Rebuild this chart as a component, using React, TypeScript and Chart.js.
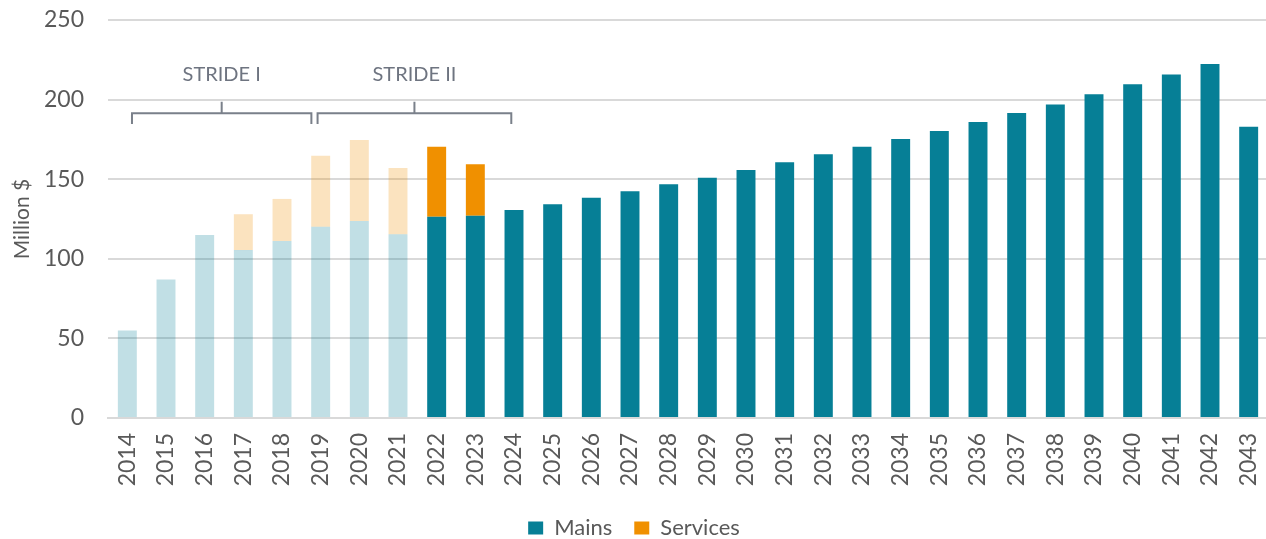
import React, { useEffect, useRef } from "react";
import { Chart, registerables } from "chart.js";

Chart.register(...registerables);

const years = [
  "2014", "2015", "2016", "2017", "2018", "2019", "2020", "2021", "2022", "2023",
  "2024", "2025", "2026", "2027", "2028", "2029", "2030", "2031", "2032", "2033",
  "2034", "2035", "2036", "2037", "2038", "2039", "2040", "2041", "2042", "2043",
];

const mains = [
  55, 87, 115, 105.5, 111.2, 120.2, 123.7, 115.4, 126.4, 127,
  130.7, 134.2, 138.4, 142.4, 146.8, 150.9, 155.8, 160.6, 165.6, 170.4,
  175.3, 180.3, 185.9, 191.6, 197, 203.3, 209.6, 215.8, 222.3, 183,
];

const services = [
  null, null, null, 22.5, 26.4, 44.6, 50.9, 41.6, 44, 32.4,
  null, null, null, null, null, null, null, null, null, null,
  null, null, null, null, null, null, null, null, null, null,
];

const lastActualYear = "2021";

const yTicks = [0, 50, 100, 150, 200, 250];

// STRIDE program brackets (category index spans, value levels)
const strideLabels = ["STRIDE I", "STRIDE II"];
const strideFrom = [0.12, 4.92];
const strideTo = [4.76, 9.93];
const bracketLevel = 191.4;
const bracketEndLevel = 184.7;
const bracketTickLevel = 198.7;
const strideLabelLevel = 216;

const MAINS = "rgb(6,127,150)";
const MAINS_LIGHT = "rgba(6,127,150,0.25)";
const SERV = "rgb(240,144,0)";
const SERV_LIGHT = "rgba(240,144,0,0.25)";
const TEXT = "#595959";
const GRID = "#d9d9d9";
const FONT = "Lato, 'Open Sans', sans-serif";

const isActual = (y: string) => Number(y) <= Number(lastActualYear);

const stridePlugin = {
  id: "strideBrackets",
  afterDatasetsDraw(chart: any) {
    const { ctx, scales } = chart;
    const x = scales.x;
    const y = scales.y;
    ctx.save();
    ctx.strokeStyle = "#7a808a";
    ctx.lineWidth = 2;
    ctx.fillStyle = "#6e7480";
    ctx.font = `20px ${FONT}`;
    ctx.textAlign = "center";
    ctx.textBaseline = "middle";
    strideLabels.forEach((label, i) => {
      const x0 = x.getPixelForValue(strideFrom[i]);
      const x1 = x.getPixelForValue(strideTo[i]);
      const xm = (x0 + x1) / 2;
      const yl = y.getPixelForValue(bracketLevel);
      const ye = y.getPixelForValue(bracketEndLevel);
      const yt = y.getPixelForValue(bracketTickLevel);
      ctx.beginPath();
      ctx.moveTo(x0, ye);
      ctx.lineTo(x0, yl);
      ctx.lineTo(x1, yl);
      ctx.lineTo(x1, ye);
      ctx.moveTo(xm, yl);
      ctx.lineTo(xm, yt);
      ctx.stroke();
      ctx.fillText(label, xm, y.getPixelForValue(strideLabelLevel));
    });
    ctx.restore();
  },
};

export default function App() {
  const ref = useRef<HTMLCanvasElement | null>(null);

  useEffect(() => {
    if (!ref.current) return;
    const chart = new Chart(ref.current, {
      type: "bar",
      data: {
        labels: years,
        datasets: [
          {
            label: "Mains",
            data: mains,
            backgroundColor: years.map((y) => (isActual(y) ? MAINS_LIGHT : MAINS)),
            borderWidth: 0,
            categoryPercentage: 0.49,
            barPercentage: 1,
          },
          {
            label: "Services",
            data: services as any,
            backgroundColor: years.map((y) => (isActual(y) ? SERV_LIGHT : SERV)),
            borderWidth: 0,
            categoryPercentage: 0.49,
            barPercentage: 1,
          },
        ],
      },
      options: {
        animation: false,
        responsive: false,
        devicePixelRatio: 1,
        layout: { padding: { top: 20, left: 0, right: 0, bottom: 0 } },
        plugins: {
          tooltip: { enabled: false },
          legend: {
            position: "bottom",
            labels: {
              color: TEXT,
              font: { family: FONT, size: 22 },
              boxWidth: 15,
              boxHeight: 13,
              padding: 22,
              generateLabels: () => [
                { text: "Mains", fillStyle: MAINS, strokeStyle: MAINS, lineWidth: 0, hidden: false, datasetIndex: 0, fontColor: TEXT },
                { text: "Services", fillStyle: SERV, strokeStyle: SERV, lineWidth: 0, hidden: false, datasetIndex: 1, fontColor: TEXT },
              ] as any,
            },
          },
        },
        scales: {
          x: {
            stacked: true,
            grid: { display: false, drawTicks: false },
            border: { display: true, color: GRID, width: 2 },
            ticks: {
              color: TEXT,
              font: { family: FONT, size: 23 },
              minRotation: 90,
              maxRotation: 90,
              autoSkip: false,
              padding: 15,
            },
            afterFit: (s: any) => {
              s.height = 77;
              s.paddingLeft = 0;
              s.paddingRight = 0;
            },
          },
          y: {
            stacked: true,
            min: 0,
            max: 250,
            afterBuildTicks: (s: any) => {
              s.ticks = yTicks.map((v) => ({ value: v }));
            },
            grid: { color: GRID, lineWidth: 2, drawTicks: false },
            border: { display: false },
            ticks: {
              color: TEXT,
              font: { family: FONT, size: 23 },
              padding: 24,
            },
            title: {
              display: true,
              text: "Million $",
              color: TEXT,
              font: { family: FONT, size: 21 },
              padding: { top: 10, bottom: 0 },
            },
            afterFit: (s: any) => {
              s.width = 108;
              s.paddingTop = 0;
              s.paddingBottom = 0;
            },
          },
        },
      },
      plugins: [stridePlugin],
    });
    return () => chart.destroy();
  }, []);

  return (
    <div style={{ position: "fixed", left: 0, top: 0, width: 1266, height: 539, overflow: "hidden", background: "#fff" }}>
      <canvas ref={ref} width={1268} height={549} style={{ width: 1268, height: 549, display: "block" }} />
    </div>
  );
}
